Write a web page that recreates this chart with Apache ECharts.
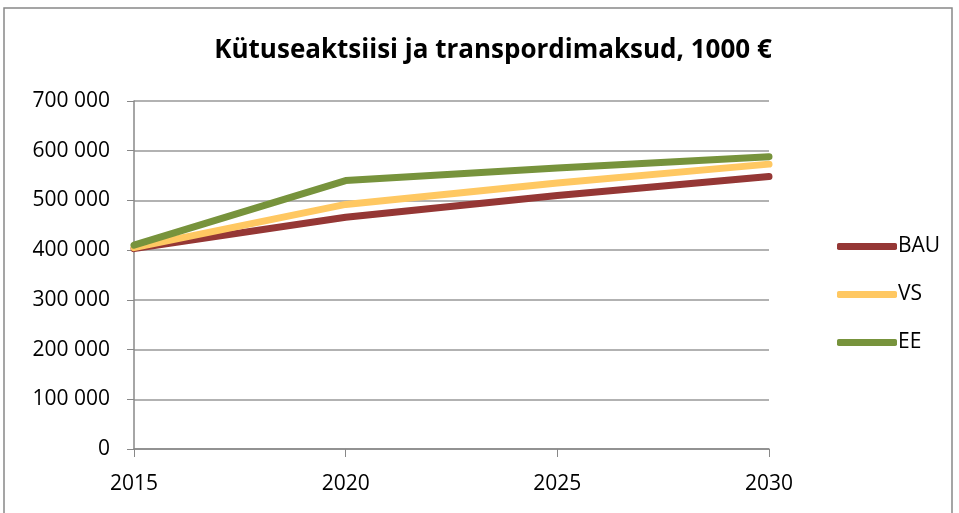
<!DOCTYPE html>
<html>
<head>
<meta charset="utf-8">
<script src="https://cdn.jsdelivr.net/npm/echarts@6/dist/echarts.min.js"></script>
<style>
  html, body { margin: 0; padding: 0; background: #fff; }
  #chart { width: 959px; height: 513px; }
</style>
</head>
<body>
<div id="chart"></div>
<script>
var years = ['2015', '2020', '2025', '2030'];
var bau = [403000, 466000, 510000, 548000];
var vs = [405000, 492000, 535000, 573000];
var ee = [410000, 540000, 565000, 588000];
var yTicks = [0, 100000, 200000, 300000, 400000, 500000, 600000, 700000];

var myChart = echarts.init(document.getElementById('chart'));
var font = 'Open Sans, Noto Sans, sans-serif';

function fmt(v) {
    return String(v).replace(/\B(?=(\d{3})+(?!\d))/g, ' ');
}

function line(name, color, data) {
    return {
        name: name,
        type: 'line',
        data: data,
        showSymbol: false,
        symbol: 'none',
        lineStyle: { color: color, width: 7, cap: 'round', join: 'round' },
        itemStyle: { color: color },
        animation: false
    };
}

var option = {
    backgroundColor: '#fff',
    title: {
        text: 'Kütuseaktsiisi ja transpordimaksud, 1000 €',
        left: 488,
        textAlign: 'center',
        top: 33,
        textStyle: { fontFamily: font, fontWeight: 'bold', fontSize: 26, color: '#000' }
    },
    legend: {
        orient: 'vertical',
        left: 832,
        top: 231,
        itemWidth: 60,
        itemHeight: 7,
        itemGap: 27,
        icon: 'roundRect',
        textStyle: { fontFamily: font, fontSize: 21, color: '#000', padding: [0, 0, 0, -4] },
        data: ['BAU', 'VS', 'EE']
    },
    grid: { left: 134, right: 190, top: 101, bottom: 64 },
    xAxis: {
        type: 'category',
        data: years,
        boundaryGap: false,
        axisLine: { lineStyle: { color: '#888', width: 1.5 } },
        axisTick: { show: true, length: 8, lineStyle: { color: '#888' } },
        axisLabel: { color: '#000', fontSize: 21, fontFamily: font, margin: 25 }
    },
    yAxis: {
        type: 'value',
        min: yTicks[0],
        max: yTicks[yTicks.length - 1],
        interval: 100000,
        axisLine: { show: true, lineStyle: { color: '#888', width: 1.5 } },
        axisTick: { show: true, length: 7, lineStyle: { color: '#888' } },
        splitLine: { lineStyle: { color: '#999', width: 1.5 } },
        axisLabel: { color: '#000', fontSize: 21, fontFamily: font, margin: 24, formatter: fmt }
    },
    graphic: [{
        type: 'rect',
        shape: { x: 4, y: 8, width: 948, height: 520 },
        style: { fill: 'none', stroke: '#888', lineWidth: 1.5 },
        silent: true
    }],
    series: [
        line('BAU', '#953735', bau),
        line('VS', '#FFC862', vs),
        line('EE', '#77933C', ee)
    ]
};
myChart.setOption(option);
</script>
</body>
</html>
